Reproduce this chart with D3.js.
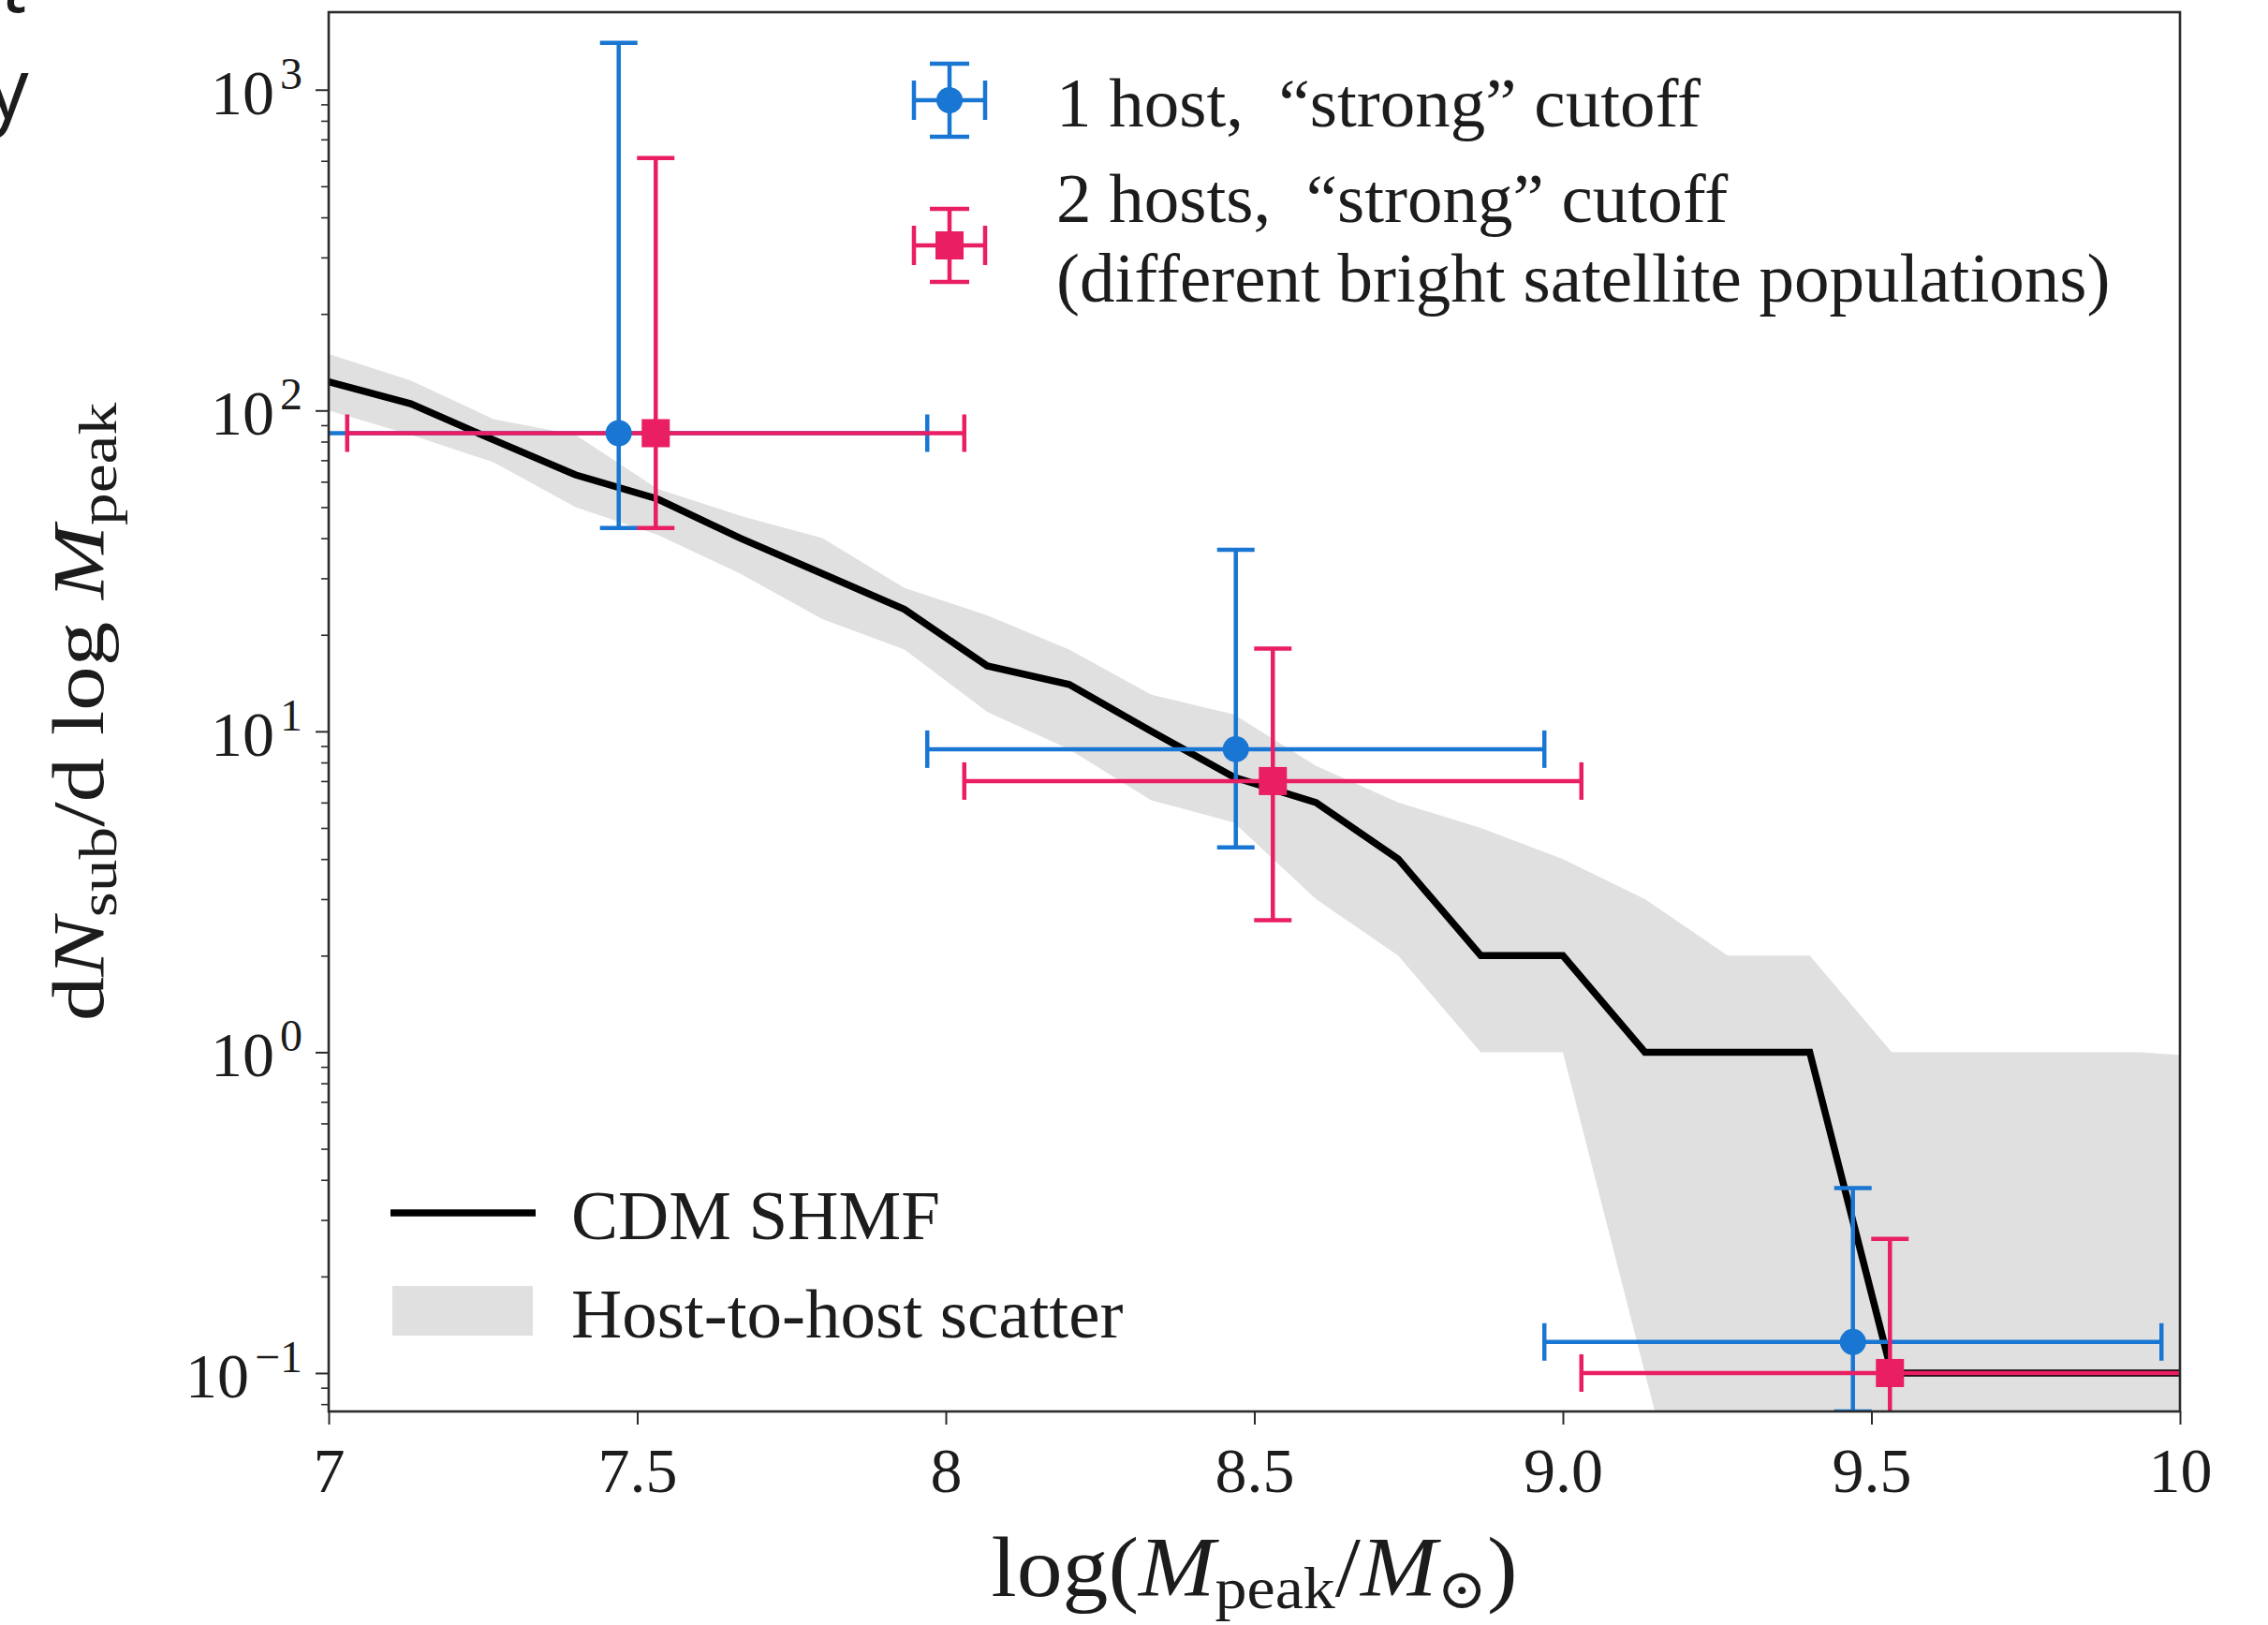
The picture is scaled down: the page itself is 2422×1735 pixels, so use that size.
<!DOCTYPE html>
<html>
<head>
<meta charset="utf-8">
<script src="https://cdn.jsdelivr.net/npm/d3@7"></script>
<style>
  html, body { margin: 0; padding: 0; background: #fff; }
  svg { display: block; }
  text { font-family: "Liberation Serif", "DejaVu Serif", serif; fill: #1c1c1c; }
</style>
</head>
<body>
<svg id="chart" width="2422" height="1735"></svg>
<script>
// ---- CDM subhalo mass function (median and host-to-host spread) ----
const massBins     = [7.0, 7.133, 7.267, 7.4, 7.533, 7.667, 7.8, 7.933, 8.067, 8.2, 8.333, 8.467,
                      8.6, 8.733, 8.867, 9.0, 9.133, 9.267, 9.4, 9.533, 9.667, 9.8, 9.933, 10.0];
const shmfMedian   = [123, 105, 81, 63, 53, 40, 31, 24, 16, 14, 10, 7.2,
                      6, 4, 2, 2, 1, 1, 1, 0.1, 0.1, 0.1, 0.1, 0.1];
const scatterUpper = [150, 124, 94, 84, 57, 47, 40, 28, 23, 18, 13, 11.3,
                      7.8, 6, 5, 4, 3, 2, 2, 1, 1, 1, 1, 0.98];
const scatterLower = [100, 84, 69, 50, 41, 31, 22.4, 18, 11.5, 8.8, 6.1, 5.2,
                      3, 2, 1, 1, 0.1, 0.01, 0.01, 0.01, 0.01, 0.01, 0.01, 0.01];

// ---- inferred SHMF measurements ----
const oneHostMass  = [7.47, 8.47, 9.47];
const oneHostValue = [85, 8.8, 0.125];
const oneHostLow   = [43, 4.35, 0.0759];
const oneHostHigh  = [1400, 36.8, 0.377];

const twoHostMass  = [7.53, 8.53, 9.53];
const twoHostValue = [85, 7.0, 0.1];
const twoHostLow   = [43, 2.58, 0.05];
const twoHostHigh  = [612, 18.1, 0.262];

const massHalfWidth = 0.5;

// ---- axes ----
const xTickValues = [7, 7.5, 8, 8.5, 9, 9.5, 10];
const xTickLabels = ["7", "7.5", "8", "8.5", "9.0", "9.5", "10"];
const yTickExponents = [-1, 0, 1, 2, 3];

// ---- legends ----
const measurementLegend = [
  { lines: ["1 host,  \u201cstrong\u201d cutoff"], color: "#1976D2", shape: "circle" },
  { lines: ["2 hosts,  \u201cstrong\u201d cutoff", "(different bright satellite populations)"], color: "#E91E63", shape: "square" }
];
const modelLegend = ["CDM SHMF", "Host-to-host scatter"];

const BLUE = "#1976D2", PINK = "#E91E63", BAND = "#e0e0e0", AXIS = "#2b2b2b";
const LINE_W = 7.5;

const svg = d3.select("#chart");
svg.append("rect").attr("width", 2422).attr("height", 1735).attr("fill", "#fff");

const plot = { left: 351, right: 2328, top: 13, bottom: 1507 };
const x = d3.scaleLinear().domain([7, 10]).range([plot.left, plot.right]);
const y = d3.scaleLog().domain([0.0759, 1744]).range([plot.bottom, plot.top]);

svg.append("clipPath").attr("id", "plotClip")
  .append("rect")
  .attr("x", plot.left).attr("y", plot.top)
  .attr("width", plot.right - plot.left).attr("height", plot.bottom - plot.top);

const data = svg.append("g").attr("clip-path", "url(#plotClip)");
const idx = d3.range(massBins.length);

// host-to-host scatter band
data.append("path")
  .attr("d", d3.area()
    .x(i => x(massBins[i]))
    .y0(i => y(scatterLower[i]))
    .y1(i => y(scatterUpper[i]))(idx))
  .attr("fill", BAND);

// median CDM SHMF
data.append("path")
  .attr("d", d3.line()
    .x(i => x(massBins[i]))
    .y(i => y(shmfMedian[i]))(idx))
  .attr("fill", "none")
  .attr("stroke", "#000")
  .attr("stroke-width", LINE_W)
  .attr("stroke-linejoin", "miter");

// error bars (both series), then markers on top
const CAP = 20, EW = 4.5;
function errorBars(g, xs, vs, lo, hi, color) {
  xs.forEach((m, i) => {
    const cy = y(vs[i]), x0 = x(m - massHalfWidth), x1 = x(m + massHalfWidth), cx = x(m);
    const yl = y(lo[i]), yh = y(hi[i]);
    const segs = [
      [x0, cy, x1, cy], [cx, yl, cx, yh],
      [x0, cy - CAP, x0, cy + CAP], [x1, cy - CAP, x1, cy + CAP],
      [cx - CAP, yl, cx + CAP, yl], [cx - CAP, yh, cx + CAP, yh]
    ];
    segs.forEach(s => g.append("line")
      .attr("x1", s[0]).attr("y1", s[1]).attr("x2", s[2]).attr("y2", s[3])
      .attr("stroke", color).attr("stroke-width", EW));
  });
}
function marker(g, cx, cy, shape, color) {
  if (shape === "circle") {
    g.append("circle").attr("cx", cx).attr("cy", cy).attr("r", 14).attr("fill", color);
  } else {
    g.append("rect").attr("x", cx - 15).attr("y", cy - 15)
      .attr("width", 30).attr("height", 30).attr("fill", color);
  }
}
errorBars(data, oneHostMass, oneHostValue, oneHostLow, oneHostHigh, BLUE);
errorBars(data, twoHostMass, twoHostValue, twoHostLow, twoHostHigh, PINK);
oneHostMass.forEach((m, i) => marker(data, x(m), y(oneHostValue[i]), "circle", BLUE));
twoHostMass.forEach((m, i) => marker(data, x(m), y(twoHostValue[i]), "square", PINK));

// ---- axes ----
const xAxis = svg.append("g").attr("transform", `translate(0,${plot.bottom})`)
  .call(d3.axisBottom(x).tickValues(xTickValues)
    .tickFormat((d, i) => xTickLabels[i]).tickSize(14).tickPadding(24));
xAxis.select(".domain").remove();
xAxis.selectAll(".tick line").attr("stroke", AXIS).attr("stroke-width", 2);
xAxis.selectAll(".tick text").attr("fill", "#1c1c1c")
  .style("font-family", "'Liberation Serif', serif").style("font-size", "68px");

const majorY = yTickExponents.map(e => Math.pow(10, e));
const yMajor = svg.append("g").attr("transform", `translate(${plot.left},0)`)
  .call(d3.axisLeft(y).tickValues(majorY).tickFormat("").tickSize(14));
yMajor.select(".domain").remove();
yMajor.selectAll(".tick line").attr("stroke", AXIS).attr("stroke-width", 2);

const minorY = y.ticks().filter(v => Math.abs(Math.log10(v) - Math.round(Math.log10(v))) > 1e-6);
const yMinor = svg.append("g").attr("transform", `translate(${plot.left},0)`)
  .call(d3.axisLeft(y).tickValues(minorY).tickFormat("").tickSize(8));
yMinor.select(".domain").remove();
yMinor.selectAll(".tick line").attr("stroke", AXIS).attr("stroke-width", 1.6);

// y tick labels as powers of ten
yTickExponents.forEach(e => {
  const t = svg.append("text")
    .attr("x", plot.left - 28).attr("y", y(Math.pow(10, e)) + 26)
    .attr("text-anchor", "end").style("font-size", "68px");
  t.append("tspan").text("10");
  t.append("tspan").attr("dx", 6).attr("dy", -27).style("font-size", "48px")
    .text(e < 0 ? "\u2212" + Math.abs(e) : String(e));
});

// plot frame
svg.append("rect")
  .attr("x", plot.left).attr("y", plot.top)
  .attr("width", plot.right - plot.left).attr("height", plot.bottom - plot.top)
  .attr("fill", "none").attr("stroke", AXIS).attr("stroke-width", 2.6);

// stretch a label horizontally so that it spans the given length
function fitLength(textSel, length, base) {
  const w = textSel.node().getBBox().width;
  textSel.attr("transform", `${base} scale(${length / w},1)`);
}

// x label: log(M_peak / M_sun)
const xLabel = svg.append("text").attr("x", 0).attr("y", 0)
  .attr("text-anchor", "middle").style("font-size", "92px");
xLabel.append("tspan").text("log(");
xLabel.append("tspan").style("font-style", "italic").text("M");
xLabel.append("tspan").attr("dy", 13).style("font-size", "64px").text("peak");
xLabel.append("tspan").attr("dy", -13).text("/");
xLabel.append("tspan").style("font-style", "italic").text("M");
xLabel.append("tspan").attr("dy", 13).style("font-size", "60px")
  .style("font-family", "'DejaVu Serif', serif").text("\u2299");
xLabel.append("tspan").attr("dy", -13).text(")");
fitLength(xLabel, 562, `translate(${(plot.left + plot.right) / 2},1704)`);

// y label: dN_sub / d log M_peak
const yLabel = svg.append("text").attr("x", 0).attr("y", 0)
  .attr("text-anchor", "middle").style("font-size", "78px");
yLabel.append("tspan").text("d");
yLabel.append("tspan").style("font-style", "italic").text("N");
yLabel.append("tspan").attr("dy", 14).style("font-size", "57px").text("sub");
yLabel.append("tspan").attr("dy", -14).text("/d log ");
yLabel.append("tspan").style("font-style", "italic").text("M");
yLabel.append("tspan").attr("dy", 14).style("font-size", "57px").text("peak");
fitLength(yLabel, 661, `translate(110,${(plot.top + plot.bottom) / 2}) rotate(-90)`);

// ---- measurement legend (upper right) ----
const legTop = svg.append("g");
const legMarkerX = 1014, legTextX = 1128;
const legRows = [
  { cy: 107, baselines: [135] },
  { cy: 262, baselines: [237, 322] }
];
measurementLegend.forEach((entry, k) => {
  const row = legRows[k], cx = legMarkerX, cy = row.cy;
  const hx = 38, hy = 39, c = 21;
  [[cx - hx, cy, cx + hx, cy], [cx, cy - hy, cx, cy + hy],
   [cx - hx, cy - c, cx - hx, cy + c], [cx + hx, cy - c, cx + hx, cy + c],
   [cx - c, cy - hy, cx + c, cy - hy], [cx - c, cy + hy, cx + c, cy + hy]]
    .forEach(s => legTop.append("line")
      .attr("x1", s[0]).attr("y1", s[1]).attr("x2", s[2]).attr("y2", s[3])
      .attr("stroke", entry.color).attr("stroke-width", EW));
  marker(legTop, cx, cy, entry.shape, entry.color);
  entry.lines.forEach((line, j) => legTop.append("text")
    .attr("x", legTextX).attr("y", row.baselines[j])
    .attr("xml:space", "preserve").style("white-space", "pre")
    .style("font-size", "75px").text(line));
});

// ---- model legend (lower left) ----
const legBottom = svg.append("g");
legBottom.append("line").attr("x1", 417).attr("x2", 572).attr("y1", 1295).attr("y2", 1295)
  .attr("stroke", "#000").attr("stroke-width", LINE_W);
legBottom.append("rect").attr("x", 419).attr("y", 1373).attr("width", 150).attr("height", 53)
  .attr("fill", BAND);
legBottom.append("text").attr("x", 610).attr("y", 1323).style("font-size", "75px").text(modelLegend[0]);
legBottom.append("text").attr("x", 610).attr("y", 1428).style("font-size", "75px").text(modelLegend[1]);

// ---- fragments of surrounding page text at the left edge ----
svg.append("text").attr("x", 32).attr("y", 13).attr("text-anchor", "end")
  .style("font-family", "'Open Sans', sans-serif").style("font-style", "italic")
  .style("font-size", "89px").attr("fill", "#111").text("nt");
svg.append("text").attr("x", -14).attr("y", 126)
  .style("font-family", "'Open Sans', sans-serif")
  .style("font-size", "89px").attr("fill", "#111").text("y");
</script>
</body>
</html>
